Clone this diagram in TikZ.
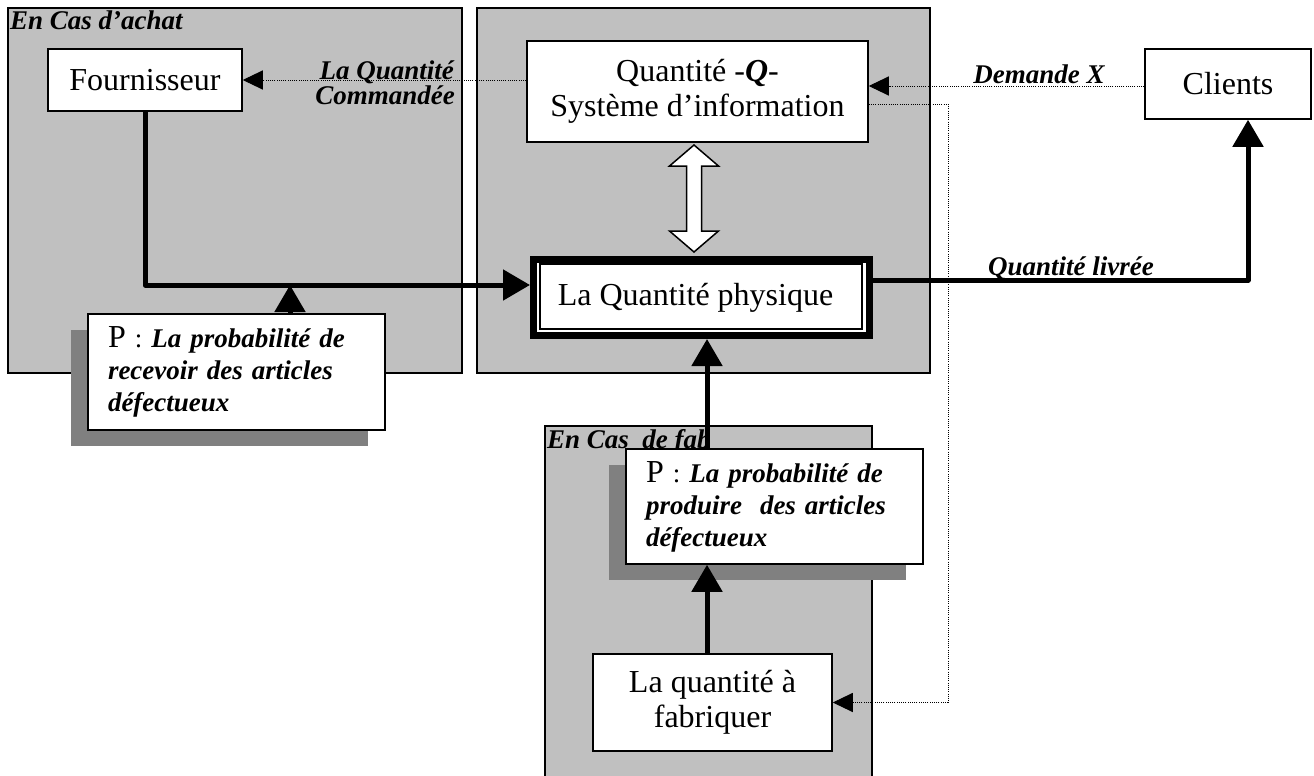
\documentclass[tikz,border=0pt]{standalone}
\usepackage{fontspec}
\setmainfont{Liberation Serif}
\usetikzlibrary{arrows.meta,shadows,calc}
\definecolor{panelgray}{HTML}{C0C0C0}
\definecolor{shadowgray}{HTML}{808080}
\begin{document}
\begin{tikzpicture}[x=1pt,y=-1pt,
  panel/.style={draw,fill=panelgray,line width=1.5pt},
  box/.style={draw,line width=1.5pt,fill=white,font=\fontsize{32}{35}\selectfont,inner sep=0pt,align=center},
  lab/.style={font=\fontsize{27}{25}\selectfont\bfseries\itshape,inner sep=0pt},
  thickarrow/.style={line width=5pt,line join=round,-{Triangle[width=30pt,length=27pt]}},
  dotline/.style={line width=1pt,dash pattern=on 1pt off 1.2pt},
  dotarrow/.style={dotline,-{Triangle[width=19pt,length=20pt]}},
  pbox/.style={draw,line width=1.5pt,fill=white,text width=257pt,inner xsep=20pt,inner ysep=0pt,
    align=left,minimum height=116pt,font=\fontsize{27}{32}\selectfont,
    drop shadow={shadow xshift=-17pt,shadow yshift=-16pt,opacity=1,fill=shadowgray}},
]
\useasboundingbox (0,0) rectangle (1314,776);
\clip (0,0) rectangle (1314,776);

% panels
\draw[panel] (8,8) rectangle (462,373);
\draw[panel] (477,8) rectangle (930,373);
\draw[panel] (545,426) rectangle (872,800);

\node[lab,anchor=base west] (lachat) at (10,30) {En Cas d’achat};
\node[lab,anchor=base west] (lfab) at (547,448) {En Cas\ \ de fab};

% main nodes
\node[box,minimum width=194pt,minimum height=62pt] (f) at (145,80) {Fournisseur};
\node[box,minimum width=341pt,minimum height=101pt] (si) at (697.5,91.5) {Quantité -\textbf{\textit{Q}}-\\Système d’information};
\node[box,minimum width=166pt,minimum height=70pt] (cl) at (1228,84) {Clients};
\node[draw,line width=7pt,fill=white,minimum width=336pt,minimum height=76pt,inner sep=0pt,
  font=\fontsize{32}{35}\selectfont] (lqp) at (701.5,297.5) {La Quantité physique\hspace*{12pt}};
\draw[line width=1.2pt] ($(lqp.north west)+(10,8)$) rectangle ($(lqp.south east)+(-11,-10)$);
\node[box,minimum width=239pt,minimum height=97pt] (lqf) at (712.5,702.5) {La quantité à\\fabriquer};

% white double arrow
\draw[fill=white,line width=1.5pt] (694,145) -- (718.5,166) -- (701.5,166) -- (701.5,231) -- (718.5,231)
  -- (694,252) -- (669.5,231) -- (686.5,231) -- (686.5,166) -- (669.5,166) -- cycle;

% thick connectors
\coordinate (j1) at (290,285);
\draw[thickarrow] (f.south) |- (lqp.west |- j1);
\node[pbox] (p1) at (236.5,372) {{\fontsize{32}{32}\selectfont P} : {\bfseries\itshape La probabilité de\\recevoir des articles\\défectueux}};
\draw[thickarrow] (p1.north -| j1) -- (j1);

\coordinate (j2) at (1248,280);
\draw[thickarrow] (lqp.east |- j2) -| (cl.south -| j2);
\node[lab,anchor=base] (livr) at (1071,275) {Quantité livrée};

\node[pbox,minimum height=115pt] (p2) at (774.5,506.5) {{\fontsize{32}{32}\selectfont P} : {\bfseries\itshape La probabilité de\\produire\ \ des articles\\défectueux}};
\coordinate (j3) at (707,0);
\draw[thickarrow] (p2.north -| j3) -- (lqp.south -| j3);
\draw[thickarrow] (lqf.north -| j3) -- (p2.south -| j3);

% dotted connectors
\coordinate (d0) at (0,80);
\draw[dotarrow] (si.west |- d0) -- (f.east |- d0);
\node[lab,anchor=base east] (lq1) at (454,79) {La Quantité};
\node[lab,anchor=base east] (lq2) at (455,104) {Commandée};

\coordinate (d2) at (0,86);
\draw[dotarrow] (cl.west |- d2) -- (si.east |- d2);
\node[lab,anchor=base] (dem) at (1039,83) {Demande X};

\coordinate (d1) at (948,104);
\draw[dotarrow] (si.east |- d1) -| (d1 |- lqf.east) -- (lqf.east);
\end{tikzpicture}
\end{document}
